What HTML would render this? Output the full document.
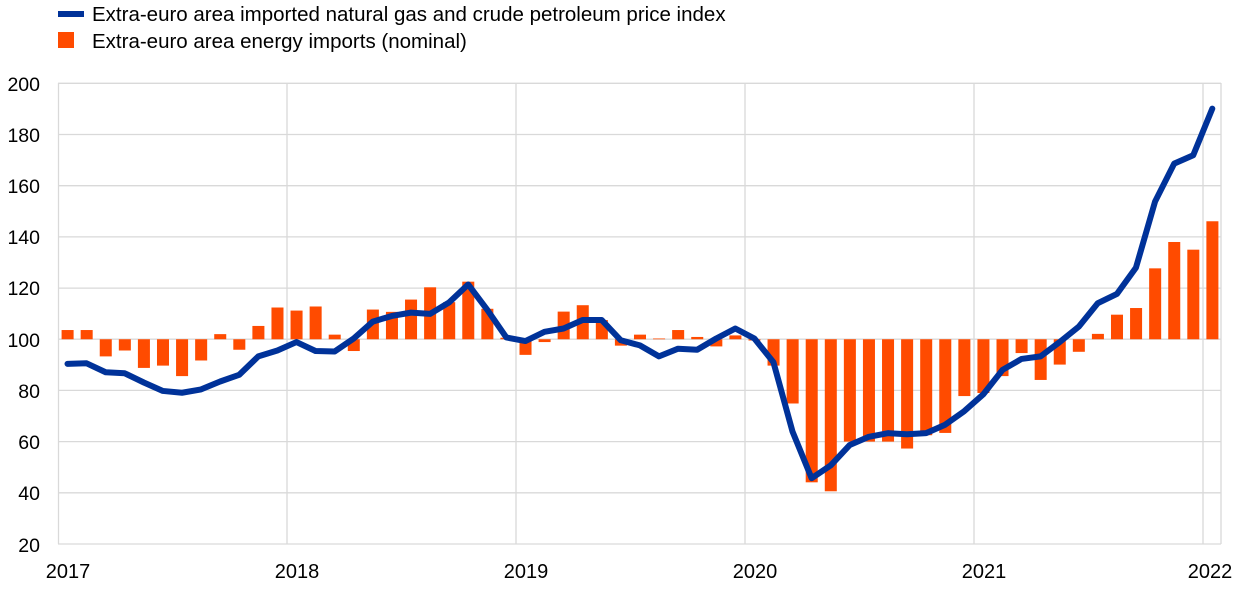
<!DOCTYPE html>
<html><head><meta charset="utf-8"><style>
body{margin:0;background:#fff;}
svg{display:block;font-family:"Liberation Sans",sans-serif;}
</style></head><body>
<svg width="1240" height="591" viewBox="0 0 1240 591" xmlns="http://www.w3.org/2000/svg">
<rect width="1240" height="591" fill="#fff"/>
<line x1="58" y1="14" x2="84" y2="14" stroke="#003299" stroke-width="6"/>
<text x="92" y="21" font-size="20.5" fill="#000">Extra-euro area imported natural gas and crude petroleum price index</text>
<rect x="58" y="32" width="16" height="16" fill="#ff4b00"/>
<text x="92" y="48" font-size="20.5" fill="#000">Extra-euro area energy imports (nominal)</text>
<g stroke="#d9d9d9" stroke-width="1.3">
<line x1="58" y1="83.3" x2="1221" y2="83.3"/>
<line x1="58" y1="134.5" x2="1221" y2="134.5"/>
<line x1="58" y1="185.7" x2="1221" y2="185.7"/>
<line x1="58" y1="236.9" x2="1221" y2="236.9"/>
<line x1="58" y1="288.1" x2="1221" y2="288.1"/>
<line x1="58" y1="339.2" x2="1221" y2="339.2"/>
<line x1="58" y1="390.4" x2="1221" y2="390.4"/>
<line x1="58" y1="441.6" x2="1221" y2="441.6"/>
<line x1="58" y1="492.8" x2="1221" y2="492.8"/>
<line x1="58" y1="544" x2="1221" y2="544"/>
<line x1="58.5" y1="83" x2="58.5" y2="544"/>
<line x1="287" y1="83" x2="287" y2="544"/>
<line x1="516" y1="83" x2="516" y2="544"/>
<line x1="745" y1="83" x2="745" y2="544"/>
<line x1="974" y1="83" x2="974" y2="544"/>
<line x1="1203" y1="83" x2="1203" y2="544"/>
<line x1="1221" y1="83" x2="1221" y2="544"/>
</g>
<g font-size="19.5" fill="#000" text-anchor="end">
<text x="40" y="91">200</text><text x="40" y="142">180</text><text x="40" y="193">160</text>
<text x="40" y="244">140</text><text x="40" y="295">120</text><text x="40" y="347">100</text>
<text x="40" y="398">80</text><text x="40" y="449">60</text><text x="40" y="500">40</text>
<text x="40" y="552">20</text>
</g>
<g font-size="20" fill="#000" text-anchor="middle">
<text x="68" y="578">2017</text><text x="297" y="578">2018</text><text x="526" y="578">2019</text>
<text x="755" y="578">2020</text><text x="984" y="578">2021</text><text x="1210" y="578">2022</text>
</g>
<g transform="translate(67.5,595.19) scale(19.08,-2.5594)" fill="#ff4b00">
<rect x="-0.31" y="100" width="0.63" height="3.6"/>
<rect x="0.69" y="100" width="0.63" height="3.6"/>
<rect x="1.69" y="93.3" width="0.63" height="6.7"/>
<rect x="2.69" y="95.6" width="0.63" height="4.4"/>
<rect x="3.69" y="88.8" width="0.63" height="11.2"/>
<rect x="4.69" y="89.7" width="0.63" height="10.3"/>
<rect x="5.69" y="85.6" width="0.63" height="14.4"/>
<rect x="6.69" y="91.7" width="0.63" height="8.3"/>
<rect x="7.69" y="100" width="0.63" height="2"/>
<rect x="8.69" y="95.9" width="0.63" height="4.1"/>
<rect x="9.69" y="100" width="0.63" height="5.2"/>
<rect x="10.69" y="100" width="0.63" height="12.4"/>
<rect x="11.69" y="100" width="0.63" height="11.2"/>
<rect x="12.69" y="100" width="0.63" height="12.8"/>
<rect x="13.69" y="100" width="0.63" height="1.8"/>
<rect x="14.69" y="95.4" width="0.63" height="4.6"/>
<rect x="15.69" y="100" width="0.63" height="11.6"/>
<rect x="16.69" y="100" width="0.63" height="10.7"/>
<rect x="17.69" y="100" width="0.63" height="15.5"/>
<rect x="18.69" y="100" width="0.63" height="20.3"/>
<rect x="19.69" y="100" width="0.63" height="14.5"/>
<rect x="20.69" y="100" width="0.63" height="22.5"/>
<rect x="21.69" y="100" width="0.63" height="11.9"/>
<rect x="22.69" y="100" width="0.63" height="0.6"/>
<rect x="23.69" y="93.9" width="0.63" height="6.1"/>
<rect x="24.69" y="98.9" width="0.63" height="1.1"/>
<rect x="25.69" y="100" width="0.63" height="10.8"/>
<rect x="26.69" y="100" width="0.63" height="13.3"/>
<rect x="27.69" y="100" width="0.63" height="7.5"/>
<rect x="28.69" y="97.5" width="0.63" height="2.5"/>
<rect x="29.69" y="100" width="0.63" height="1.8"/>
<rect x="30.69" y="100" width="0.63" height="0.3"/>
<rect x="31.69" y="100" width="0.63" height="3.6"/>
<rect x="32.69" y="100" width="0.63" height="0.9"/>
<rect x="33.69" y="97.2" width="0.63" height="2.8"/>
<rect x="34.69" y="100" width="0.63" height="1.5"/>
<rect x="35.69" y="99.5" width="0.63" height="0.5"/>
<rect x="36.69" y="89.7" width="0.63" height="10.3"/>
<rect x="37.69" y="74.9" width="0.63" height="25.1"/>
<rect x="38.69" y="44.1" width="0.63" height="55.9"/>
<rect x="39.69" y="40.6" width="0.63" height="59.4"/>
<rect x="40.69" y="60" width="0.63" height="40"/>
<rect x="41.69" y="60" width="0.63" height="40"/>
<rect x="42.69" y="60" width="0.63" height="40"/>
<rect x="43.69" y="57.3" width="0.63" height="42.7"/>
<rect x="44.69" y="62.5" width="0.63" height="37.5"/>
<rect x="45.69" y="63.4" width="0.63" height="36.6"/>
<rect x="46.69" y="77.8" width="0.63" height="22.2"/>
<rect x="47.69" y="79" width="0.63" height="21"/>
<rect x="48.69" y="85.6" width="0.63" height="14.4"/>
<rect x="49.69" y="94.6" width="0.63" height="5.4"/>
<rect x="50.69" y="84.1" width="0.63" height="15.9"/>
<rect x="51.69" y="90.1" width="0.63" height="9.9"/>
<rect x="52.69" y="95.1" width="0.63" height="4.9"/>
<rect x="53.69" y="100" width="0.63" height="2.1"/>
<rect x="54.69" y="100" width="0.63" height="9.6"/>
<rect x="55.69" y="100" width="0.63" height="12.2"/>
<rect x="56.69" y="100" width="0.63" height="27.7"/>
<rect x="57.69" y="100" width="0.63" height="38"/>
<rect x="58.69" y="100" width="0.63" height="35"/>
<rect x="59.69" y="100" width="0.63" height="46.1"/>
<polyline fill="none" stroke="#003299" stroke-width="6" stroke-linejoin="round" stroke-linecap="round" vector-effect="non-scaling-stroke" points="0,90.4 1,90.6 2,87.1 3,86.7 4,83.1 5,79.8 6,79.1 7,80.4 8,83.5 9,86.1 10,93.3 11,95.6 12,98.9 13,95.4 14,95.2 15,100.3 16,106.9 17,109.1 18,110.4 19,109.9 20,114.4 21,121.4 22,111.5 23,100.7 24,99.3 25,102.9 26,104.2 27,107.5 28,107.5 29,99.6 30,97.6 31,93.3 32,96.3 33,95.9 34,100.3 35,104.2 36,100.3 37,91 38,63.9 39,45.7 40,50.7 41,58.7 42,61.9 43,63.3 44,62.9 45,63.3 46,66.6 47,71.9 48,78.5 49,88 50,92.3 51,93.3 52,98.9 53,104.9 54,114.1 55,117.7 56,128 57,153.8 58,168.6 59,171.9 60,190.1"/>
</g>
</svg>
</body></html>
